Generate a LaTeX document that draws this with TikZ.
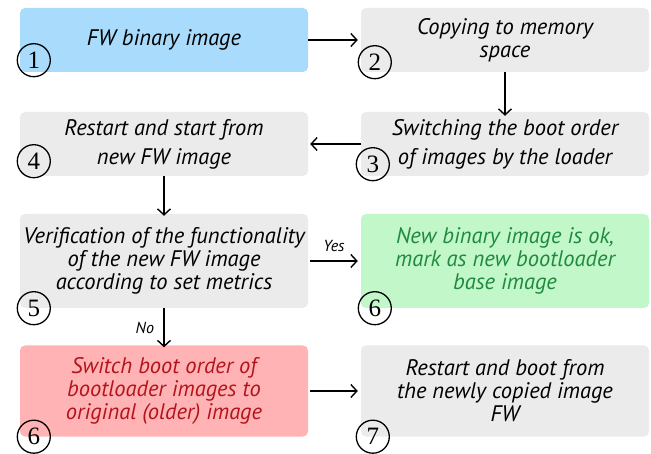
\documentclass[tikz,border=0pt]{standalone}
\usepackage{fontspec}
\setmainfont{PT Sans}
\newfontfamily\numfont{Liberation Serif}
\usepackage{xcolor}
\usetikzlibrary{arrows.meta}

\definecolor{fwblue}{HTML}{A9DBFC}
\definecolor{stepgray}{HTML}{EBEBEB}
\definecolor{okgreen}{HTML}{C2F7C9}
\definecolor{okgreentext}{HTML}{1F8A3E}
\definecolor{failred}{HTML}{FFB3B5}
\definecolor{failredtext}{HTML}{B3141C}

\tikzset{
    stepbox/.style={rectangle, rounded corners=5pt, fill=stepgray,
        minimum width=288pt, minimum height=64pt, align=center,
        font=\fontsize{22.5}{23}\selectfont\itshape, inner sep=0pt},
    stepnum/.style={circle, draw, line width=1.3pt, minimum size=33pt,
        inner sep=0pt, font=\numfont\fontsize{25}{25}\selectfont},
    flow/.style={-{Straight Barb[length=6pt,width=13pt]}, line width=1.4pt},
    flowlabel/.style={font=\fontsize{16}{16}\selectfont\itshape}
}

\begin{document}
\begin{tikzpicture}[x=1pt,y=-1pt]
            \useasboundingbox (0,0) rectangle (651,454);

            % boxes
            \node[stepbox, fill=fwblue] (fw) at (164, 40) {FW binary image};
            \node[stepbox] (copy) at (505, 40) {Copying to memory\\space};
            \node[stepbox] (switch) at (505, 144) {Switching the boot order\\[6pt]of images by the loader};
            \node[stepbox] (restart) at (164, 144) {Restart and start from\\[6pt]new FW image};
            \node[stepbox, minimum height=94pt] (verify) at (164, 261)
                {Verification of the functionality\\of the new FW image\\according to set metrics};
            \node[stepbox, minimum height=94pt, fill=okgreen, text=okgreentext] (ok) at (505, 261)
                {New binary image is ok,\\mark as new bootloader\\base image};
            \node[stepbox, minimum height=91pt, fill=failred, text=failredtext] (revert) at (164, 391)
                {Switch boot order of\\bootloader images to\\original (older) image};
            \node[stepbox, minimum height=91pt] (reboot) at (505, 391)
                {Restart and boot from\\the newly copied image\\FW};

            % numbers
            \node[stepnum] (n1) at (fw.south west) [xshift=14pt, yshift=12pt] {1};
            \node[stepnum] (n2) at (copy.south west) [xshift=14pt, yshift=10pt] {2};
            \node[stepnum] (n3) at (switch.south west) [xshift=12pt, yshift=12pt] {3};
            \node[stepnum] (n4) at (restart.south west) [xshift=14pt, yshift=15pt] {4};
            \node[stepnum] (n5) at (verify.south west) [xshift=14pt] {5};
            \node[stepnum] (n6a) at (ok.south west) [xshift=14pt] {6};
            \node[stepnum] (n6b) at (revert.south west) [xshift=14pt] {6};
            \node[stepnum] (n7) at (reboot.south west) [xshift=12pt] {7};

            % connectors
            \draw[flow] (fw.east) -- ([xshift=-3pt]copy.west);
            \draw[flow] (copy.south) -- ([yshift=-4pt]switch.north);
            \draw[flow] (switch.west) -- ([xshift=2pt]restart.east);
            \draw[flow] (restart.south) -- ([yshift=-2pt]verify.north);
            \draw[flow] ([xshift=2pt]verify.east) -- node[flowlabel, above=5pt] (yes) {Yes} ([xshift=-3pt]ok.west);
            \draw[flow] (verify.south) -- node[flowlabel, left=6pt] (no) {No} ([yshift=-2pt]revert.north);
            \draw[flow] ([xshift=2pt]revert.east) -- ([xshift=-3pt]reboot.west);
        \end{tikzpicture}
\end{document}
